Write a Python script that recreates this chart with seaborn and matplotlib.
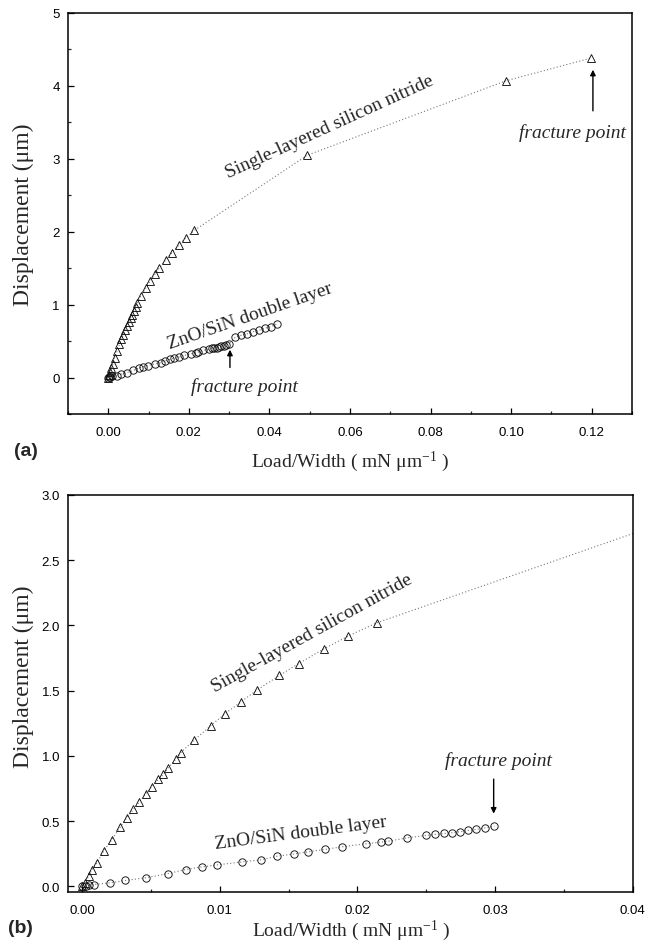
import numpy as np
import pandas as pd
import matplotlib
matplotlib.use("Agg")
import matplotlib.pyplot as plt
from matplotlib.ticker import MultipleLocator, FormatStrFormatter
import seaborn as sns

# ---------------- data ----------------
# Single-layered silicon nitride (triangles)
sin_load = [0.0, 0.00024, 0.00048, 0.00072, 0.00108, 0.00156, 0.00217, 0.00277,
            0.00325, 0.00373, 0.00417, 0.00463, 0.00506, 0.00554, 0.0059, 0.00626,
            0.0068, 0.00716, 0.00812, 0.00935, 0.0104, 0.01157, 0.0127, 0.01434,
            0.01573, 0.0176, 0.01935, 0.0214, 0.0494, 0.0987, 0.1197]
sin_disp = [0.0, 0.03, 0.08, 0.13, 0.18, 0.27, 0.36, 0.455,
            0.527, 0.59, 0.65, 0.711, 0.764, 0.82, 0.859, 0.91,
            0.974, 1.025, 1.12, 1.232, 1.325, 1.417, 1.505, 1.618,
            1.708, 1.823, 1.92, 2.02, 3.05, 4.07, 4.38]

# ZnO/SiN double layer (circles) up to fracture
dbl_load = [0.0, 0.0003, 0.0005, 0.00084, 0.00205, 0.00313, 0.00463, 0.00622,
            0.00752, 0.00873, 0.00978, 0.01159, 0.013, 0.01417, 0.01536, 0.01642,
            0.01766, 0.01886, 0.0206, 0.0217, 0.02224, 0.02362, 0.025, 0.02567,
            0.02627, 0.02687, 0.02748, 0.02803, 0.02863, 0.02928, 0.02996]
dbl_disp = [0.0, 0.005, 0.008, 0.015, 0.028, 0.046, 0.067, 0.098,
            0.13, 0.15, 0.165, 0.188, 0.204, 0.232, 0.249, 0.266,
            0.284, 0.304, 0.327, 0.34, 0.347, 0.373, 0.391, 0.399,
            0.406, 0.412, 0.419, 0.429, 0.437, 0.45, 0.462]
# points after fracture (only shown in panel a)
dbl_post_load = [0.0315, 0.033, 0.0345, 0.036, 0.0375, 0.039, 0.0405, 0.042]
dbl_post_disp = [0.55, 0.58, 0.60, 0.63, 0.65, 0.68, 0.70, 0.74]

a_xticks = [0.00, 0.02, 0.04, 0.06, 0.08, 0.10, 0.12]
a_yticks = [0, 1, 2, 3, 4, 5]
b_xticks = [0.00, 0.01, 0.02, 0.03, 0.04]
b_yticks = [0.0, 0.5, 1.0, 1.5, 2.0, 2.5, 3.0]

xlabel = "Load/Width ( mN μm$^{-1}$ )"
ylabel = "Displacement (μm)"
lbl_sin = "Single-layered silicon nitride"
lbl_dbl = "ZnO/SiN double layer"
lbl_frac = "fracture point"

# ---------------- style ----------------
sns.set_theme(style="ticks")
plt.rcParams["font.family"] = ["Liberation Sans", "DejaVu Sans"]
plt.rcParams["mathtext.fontset"] = "custom"
plt.rcParams["mathtext.rm"] = "Liberation Serif"
plt.rcParams["mathtext.it"] = "Liberation Serif:italic"
plt.rcParams["xtick.direction"] = "in"
plt.rcParams["ytick.direction"] = "in"

SERIF = ["Liberation Serif", "DejaVu Serif"]
W, H = 648, 953
fig = plt.figure(figsize=(W / 100, H / 100), dpi=100)
ax_a = fig.add_axes([68 / W, 1 - 415 / H, (632 - 68) / W, (415 - 14) / H])
ax_b = fig.add_axes([68.3 / W, 1 - 892.7 / H, (632.7 - 68.3) / W, (892.7 - 496) / H])

sin_df = pd.DataFrame({"load": sin_load, "disp": sin_disp})
dbl_df = pd.DataFrame({"load": dbl_load, "disp": dbl_disp})
dbl_full_df = pd.DataFrame({"load": dbl_load + dbl_post_load,
                            "disp": dbl_disp + dbl_post_disp})

line_kw = dict(estimator=None, sort=False, color="#777777", linestyle=(0, (1, 2)),
               linewidth=0.8, markersize=5.3, markerfacecolor="none",
               markeredgecolor="#111111", markeredgewidth=0.65)


def draw(ax, dbl_data):
    sns.lineplot(data=sin_df, x="load", y="disp", ax=ax, marker="^", **line_kw)
    sns.lineplot(data=dbl_data, x="load", y="disp", ax=ax, marker="o", **line_kw)
    for s in ax.spines.values():
        s.set_linewidth(1.1)
        s.set_color("black")
    ax.tick_params(which="major", length=4.5, width=0.9, labelsize=9.5,
                   colors="black", top=False, right=False)
    ax.tick_params(which="minor", length=2.3, width=0.9, top=False, right=False)
    ax.tick_params(axis="x", which="major", pad=9)
    ax.tick_params(axis="y", which="major", pad=6)
    ax.set_xlabel(xlabel, fontsize=14, family=SERIF)
    ax.set_ylabel(ylabel, fontsize=17, family=SERIF)


draw(ax_a, dbl_full_df)
draw(ax_b, dbl_df)

# panel a axes
ax_a.set_xlim(-0.01, 0.13)
ax_a.set_ylim(-0.5, 5)
ax_a.set_xticks(a_xticks)
ax_a.set_yticks(a_yticks)
ax_a.xaxis.set_minor_locator(MultipleLocator(0.01))
ax_a.yaxis.set_minor_locator(MultipleLocator(0.5))
ax_a.xaxis.set_major_formatter(FormatStrFormatter("%.2f"))
ax_a.xaxis.set_label_coords(0.5, -0.087)
ax_a.yaxis.set_label_coords(-0.06, 0.5)

# panel b axes
ax_b.set_xlim(-0.001, 0.04)
ax_b.set_ylim(-0.04, 3.0)
ax_b.set_xticks(b_xticks)
ax_b.set_yticks(b_yticks)
ax_b.xaxis.set_minor_locator(MultipleLocator(0.005))
ax_b.xaxis.set_major_formatter(FormatStrFormatter("%.2f"))
ax_b.yaxis.set_major_formatter(FormatStrFormatter("%.1f"))
ax_b.xaxis.set_label_coords(0.5, -0.066)
ax_b.yaxis.set_label_coords(-0.06, 0.544)

# annotations panel a
txt = dict(family=SERIF, fontsize=14, rotation_mode="anchor", ha="center", va="baseline")
ax_a.text(0.0553, 3.386, lbl_sin, rotation=24.5, **txt)
ax_a.text(0.0356, 0.797, lbl_dbl, rotation=19.1, **txt)
ax_a.text(0.0338, -0.18, lbl_frac, style="italic", family=SERIF, fontsize=14,
          ha="center", va="baseline")
ax_a.text(0.1153, 3.30, lbl_frac, style="italic", family=SERIF, fontsize=14,
          ha="center", va="baseline")
arrow = dict(arrowstyle="-|>", color="black", lw=1.0, mutation_scale=8)
ax_a.annotate("", xy=(0.0302, 0.42), xytext=(0.0302, 0.10), arrowprops=arrow)
ax_a.annotate("", xy=(0.1203, 4.26), xytext=(0.1203, 3.62), arrowprops=arrow)

# annotations panel b
ax_b.text(0.01687, 1.917, lbl_sin, rotation=29, **txt)
ax_b.text(0.0159, 0.38, lbl_dbl, rotation=7.4, **txt)
ax_b.text(0.03025, 0.93, lbl_frac, style="italic", family=SERIF, fontsize=14,
          ha="center", va="baseline")
ax_b.annotate("", xy=(0.0299, 0.537), xytext=(0.0299, 0.844), arrowprops=arrow)

# panel letters
fig.text(26 / W, 1 - 452 / H, "(a)", fontsize=14, fontweight="bold",
         ha="center", va="center")
fig.text(20 / W, 1 - 929 / H, "(b)", fontsize=14, fontweight="bold",
         ha="center", va="center")

fig.savefig("out.png", dpi=100)
